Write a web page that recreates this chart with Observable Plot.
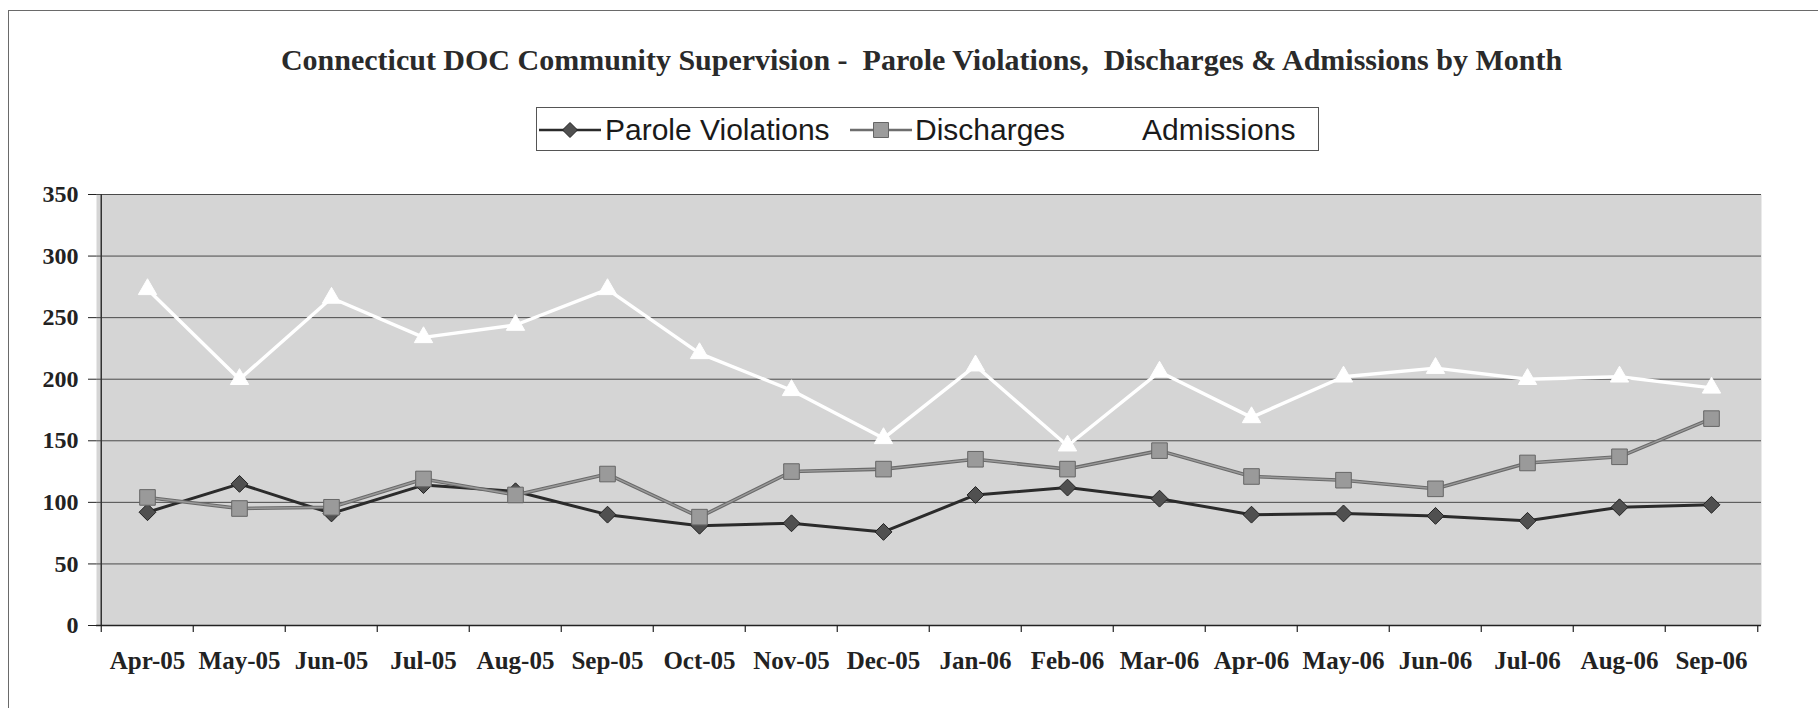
<!DOCTYPE html>
<html>
<head>
<meta charset="utf-8">
<script src="https://cdn.jsdelivr.net/npm/d3@7"></script>
<script src="https://cdn.jsdelivr.net/npm/@observablehq/plot@0.6"></script>
<style>
  html, body { margin: 0; padding: 0; background: #fff; }
  #wrap { position: relative; width: 1818px; height: 708px; overflow: hidden; background: #fff; }
  #border { position: absolute; left: 8px; top: 10px; width: 1830px; height: 720px; border-top: 1px solid #6a6a6a; border-left: 1px solid #6a6a6a; box-sizing: border-box; }
  #title { position: absolute; left: 0; width: 1843px; top: 45px; line-height: 30px; text-align: center; white-space: pre;
           font-family: "Liberation Serif", "Times New Roman", serif; font-weight: bold; font-size: 30px; color: #2a2a2a; }
  #legend { position: absolute; left: 536px; top: 107px; width: 783px; height: 44px; border: 1px solid #555; box-sizing: border-box; background: #fff; }
  .lt { position: absolute; top: 107px; line-height: 46px; font-family: "Liberation Sans", Arial, sans-serif; font-size: 30px; color: #1a1a1a; white-space: pre; }
  .sw { position: absolute; top: 115px; }
  #chart { position: absolute; left: 0; top: 0; }
</style>
</head>
<body>
<div id="wrap">
  <div id="border"></div>
  <div id="title"></div>
  <div id="legend"></div>
  <div id="chart"></div>
</div>
<script>
const months = ["Apr-05","May-05","Jun-05","Jul-05","Aug-05","Sep-05","Oct-05","Nov-05","Dec-05","Jan-06","Feb-06","Mar-06","Apr-06","May-06","Jun-06","Jul-06","Aug-06","Sep-06"];
const paroleViolations = [92,115,91,114,109,90,81,83,76,106,112,103,90,91,89,85,96,98];
const discharges = [104,95,96,119,106,123,88,125,127,135,127,142,121,118,111,132,137,168];
const admissions = [273,200,266,234,244,273,221,191,152,211,146,206,169,202,209,200,202,193];
const yTicks = [0,50,100,150,200,250,300,350];
const seriesNames = ["Parole Violations","Discharges","Admissions"];
const titleText = "Connecticut DOC Community Supervision -  Parole Violations,  Discharges & Admissions by Month";

document.getElementById("title").textContent = titleText;

const pv = months.map((m, i) => ({month: m, value: paroleViolations[i]}));
const dc = months.map((m, i) => ({month: m, value: discharges[i]}));
const ad = months.map((m, i) => ({month: m, value: admissions[i]}));

const W = 1818, H = 708, mL = 96, mR = 57, mT = 194, mB = 83;
const half = (W - mL - mR) / months.length / 2;
const serif = "Liberation Serif, Times New Roman, serif";

const chart = Plot.plot({
  width: W, height: H,
  marginLeft: mL, marginRight: mR, marginTop: mT, marginBottom: mB,
  style: {background: "transparent", overflow: "visible"},
  x: {type: "point", domain: months, padding: 0.5, label: null},
  y: {domain: [0, 350], label: null},
  marks: [
    Plot.frame({fill: "#d5d5d5", stroke: null}),
    Plot.ruleY(yTicks.filter(d => d > 0), {stroke: "#4a4a4a", strokeWidth: 1}),
    Plot.ruleX([months[0]], {dx: -half, y1: 0, y2: 350, stroke: "#333", strokeWidth: 1.5}),
    Plot.ruleY([0], {stroke: "#222", strokeWidth: 1.5}),
    Plot.ruleX(months, {dx: -half, y1: 0, y2: 0, insetBottom: -7, stroke: "#222", strokeWidth: 1.2}),
    Plot.ruleX([months[months.length - 1]], {dx: half, y1: 0, y2: 0, insetBottom: -7, stroke: "#222", strokeWidth: 1.2}),
    Plot.axisY({ticks: yTicks, tickSize: 8, tickPadding: 10, stroke: "#222", fontSize: 24, fontFamily: serif, fontWeight: "bold", fill: "#222", label: null}),
    Plot.axisX({tickSize: 0, tickPadding: 26, fontSize: 25, fontFamily: serif, fontWeight: "bold", fill: "#222", label: null}),
    // Parole Violations
    Plot.line(pv, {x: "month", y: "value", stroke: "#2b2b2b", strokeWidth: 3}),
    Plot.dot(pv, {x: "month", y: "value", symbol: "diamond2", r: 7.6, fill: "#505050", stroke: "#222", strokeWidth: 1}),
    // Discharges
    Plot.line(dc, {x: "month", y: "value", stroke: "#6a6a6a", strokeWidth: 3.6}),
    Plot.line(dc, {x: "month", y: "value", stroke: "#9a9a9a", strokeWidth: 1.4}),
    Plot.dot(dc, {x: "month", y: "value", symbol: "square", r: 8.8, fill: "#9a9a9a", stroke: "#666", strokeWidth: 1}),
    // Admissions
    Plot.line(ad, {x: "month", y: "value", stroke: "#fff", strokeWidth: 3.4}),
    Plot.dot(ad, {x: "month", y: "value", symbol: "triangle", r: 6.8, fill: "#fff", stroke: "#fff", strokeWidth: 1})
  ]
});
document.getElementById("chart").appendChild(chart);

// Legend
const wrap = document.getElementById("wrap");
const legendItems = [
  {name: seriesNames[0], sx: 539, tx: 605, line: "#2b2b2b", sym: "diamond", fill: "#505050", stroke: "#222"},
  {name: seriesNames[1], sx: 850, tx: 915, line: "#6e6e6e", sym: "square", fill: "#9c9c9c", stroke: "#666"},
  {name: seriesNames[2], sx: 1075, tx: 1142, line: "#fff", sym: "triangle", fill: "#fff", stroke: "#fff"}
];
for (const it of legendItems) {
  const svg = d3.create("svg").attr("class", "sw").attr("width", 62).attr("height", 30)
    .style("left", it.sx + "px");
  svg.append("line").attr("x1", 0).attr("x2", 62).attr("y1", 15).attr("y2", 15)
    .attr("stroke", it.line).attr("stroke-width", 2.6);
  let path;
  if (it.sym === "diamond") path = "M31,7.5L38.5,15L31,22.5L23.5,15Z";
  else if (it.sym === "square") path = "M23.5,7.5H38.5V22.5H23.5Z";
  else path = "M31,8L38,21H24Z";
  svg.append("path").attr("d", path).attr("fill", it.fill).attr("stroke", it.stroke);
  wrap.appendChild(svg.node());
  const t = document.createElement("div");
  t.className = "lt";
  t.style.left = it.tx + "px";
  t.textContent = it.name;
  wrap.appendChild(t);
}
</script>
</body>
</html>
